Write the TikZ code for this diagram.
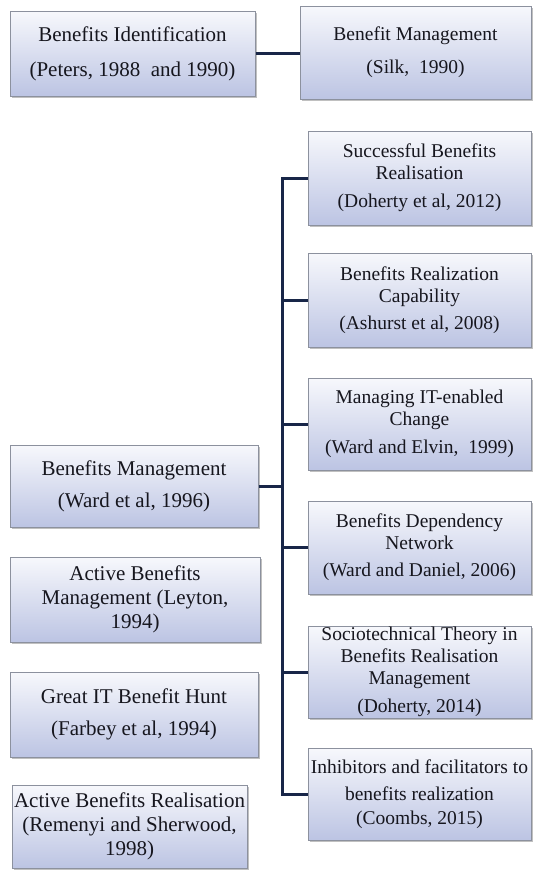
\documentclass[tikz,border=0pt]{standalone}
\usepackage{fontspec}
\setmainfont{Liberation Serif}
\usetikzlibrary{shadows}

\definecolor{boxtop}{RGB}{247,248,252}
\definecolor{boxbot}{RGB}{188,196,227}
\definecolor{boxline}{RGB}{140,145,158}
\definecolor{linkc}{RGB}{24,38,72}
\definecolor{textc}{RGB}{22,22,30}

\newcommand{\leftfont}{\fontsize{21}{24}\selectfont}
\newcommand{\rightfont}{\fontsize{19.5}{22}\selectfont}

\tikzset{
  box/.style={draw=boxline, line width=1pt, top color=boxtop, bottom color=boxbot,
    align=center, text=textc, inner sep=1pt, anchor=center,
    drop shadow={shadow xshift=2pt, shadow yshift=-2pt, opacity=.35, fill=black!70}},
  lbox/.style={box, font=\leftfont},
  rbox/.style={box, font=\rightfont, minimum width=223pt},
  link/.style={draw=linkc, line width=3pt, line join=miter}
}

\begin{document}
\begin{tikzpicture}[x=1pt, y=-1pt]
\useasboundingbox[fill=white] (0,0) rectangle (536,871);

% top pair
\node[lbox, minimum width=245pt, minimum height=85pt] (ident) at (132.5,53.5)
  {Benefits Identification\\[11pt](Peters, 1988\ \ and 1990)};
\node[box, font=\rightfont, minimum width=231pt, minimum height=93pt] (silk) at (415.5,52.5)
  {Benefit Management\\[11pt](Silk,\ \ 1990)};

% left column
\node[lbox, minimum width=248pt, minimum height=82pt] (bm) at (134,486)
  {Benefits Management\\[8pt](Ward et al, 1996)};
\node[lbox, minimum width=250pt, minimum height=85pt] (abm) at (135,599.5)
  {Active Benefits\\Management (Leyton,\\1994)};
\node[lbox, minimum width=248pt, minimum height=85pt] (git) at (134,714.5)
  {Great IT Benefit Hunt\\[8pt](Farbey et al, 1994)};
\node[lbox, minimum width=235pt, minimum height=83pt] (abr) at (129.5,826.5)
  {Active Benefits Realisation\\(Remenyi and Sherwood,\\1998)};

% right column
\node[rbox, minimum height=94pt] (succ) at (419.5,178)
  {Successful Benefits\\Realisation\\[6pt](Doherty et al, 2012)};
\node[rbox, minimum height=94pt] (capab) at (419.5,300)
  {Benefits Realization\\Capability\\[5pt](Ashurst et al, 2008)};
\node[rbox, minimum height=92pt] (manag) at (419.5,424)
  {Managing IT-enabled\\Change\\[6pt](Ward and Elvin,\ \ 1999)};
\node[rbox, minimum height=93pt] (depend) at (419.5,547.5)
  {Benefits Dependency\\Network\\[5pt](Ward and Daniel, 2006)};
\node[rbox, minimum height=92pt] (socio) at (419.5,672)
  {Sociotechnical Theory in\\Benefits Realisation\\Management\\[6pt](Doherty, 2014)};
\node[rbox, minimum height=92pt] (inhib) at (419.5,794)
  {Inhibitors and facilitators to\\[5pt]benefits realization\\[2pt](Coombs, 2015)};

% connectors
\draw[link] (ident.east) -- (ident.east -| silk.west);
\draw[link] (succ.west) -- ++(-25,0) coordinate (trunk)
  -- (trunk |- inhib.west) -- (inhib.west);
\foreach \n in {capab, manag, depend, socio}
  \draw[link] (\n.west) -- (trunk |- \n.west);
\draw[link] (bm.east) -- (trunk |- bm.east);
\end{tikzpicture}
\end{document}
